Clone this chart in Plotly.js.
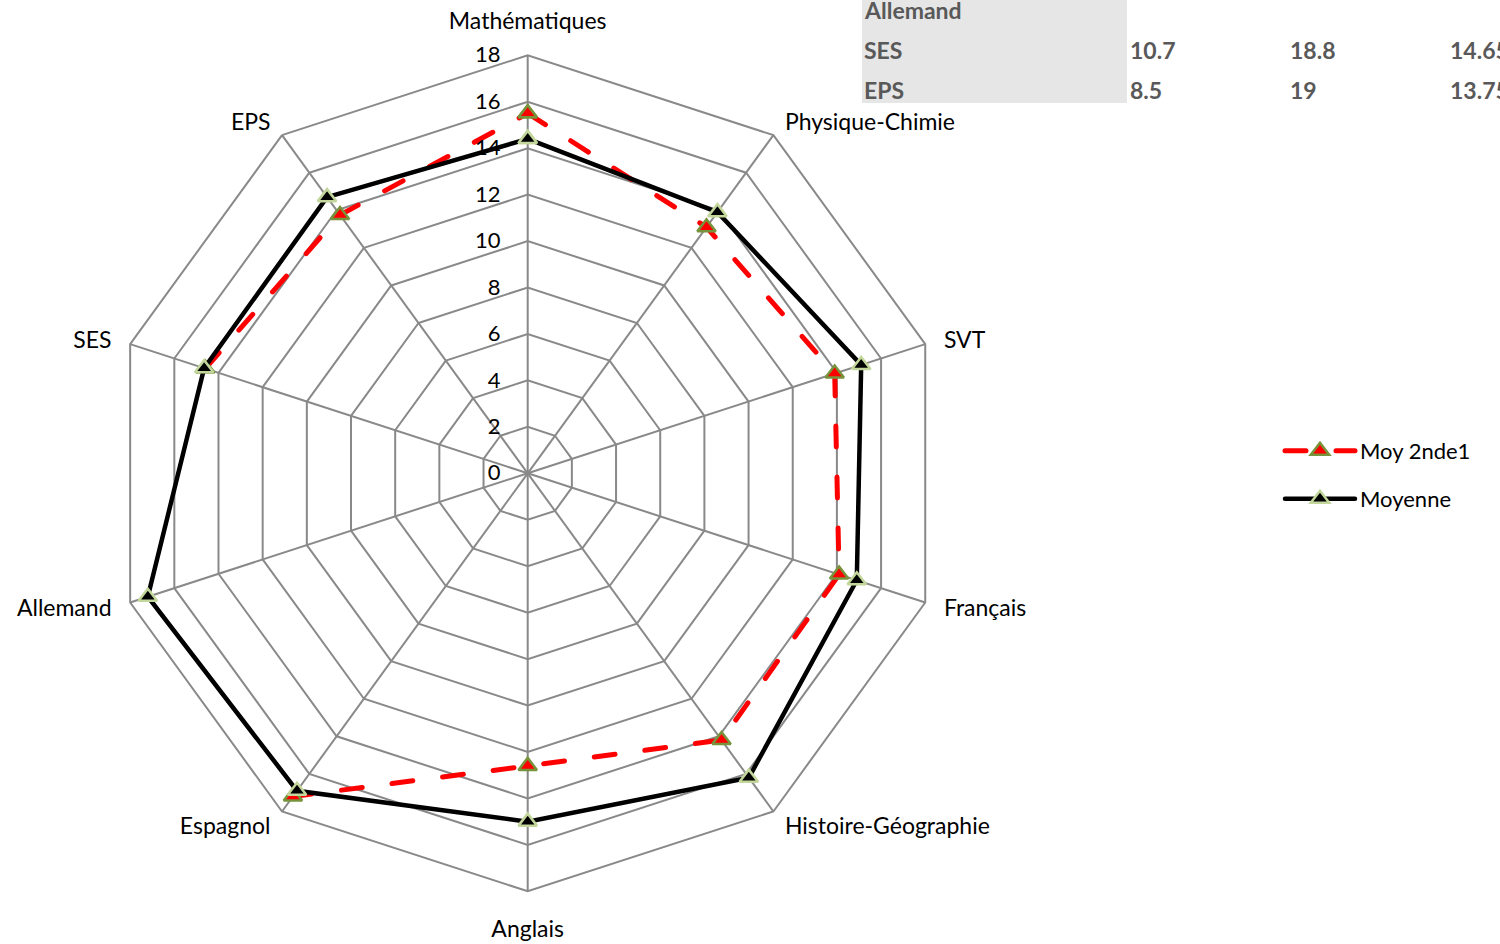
<!DOCTYPE html>
<html>
<head>
<meta charset="utf-8">
<script src="https://cdn.plot.ly/plotly-3.0.1.min.js"></script>
<style>
html,body{margin:0;padding:0;background:#fff;}
#chart{width:1500px;height:944px;}
path.js-line{stroke-linecap:round !important;}
</style>
</head>
<body>
<div id="chart"></div>
<script>
// ---- data ----
const categories = ["Mathématiques","Physique-Chimie","SVT","Français","Histoire-Géographie","Anglais","Espagnol","Allemand","SES","EPS"];
const moy2nde1 = [15.5, 13.1, 13.9, 14.1, 14.2, 12.6, 17.2, null, 14.6, 13.75];
const moyenne  = [14.4, 13.9, 15.1, 14.9, 16.2, 15.0, 16.9, 17.2, 14.65, 14.7];
const seriesNames = ["Moy 2nde1", "Moyenne"];
const radialTicks = [0,2,4,6,8,10,12,14,16,18];

const tableRows = ["Allemand","SES","EPS"];
const tableMin  = ["", "10.7", "8.5"];
const tableMax  = ["", "18.8", "19"];
const tableAvg  = ["", "14.65", "13.75"];

// ---- build ----
const closeLoop = arr => arr.concat([arr[0]]);
const theta = closeLoop(categories);
const FONT = "Lato, 'Open Sans', sans-serif";

const traces = [
  {
    type: "scatterpolar", mode: "lines+markers", name: seriesNames[0],
    r: closeLoop(moy2nde1), theta: theta, connectgaps: false,
    line: {color: "#FF0000", width: 5, dash: "21px,30px"},
    marker: {symbol: "triangle-up", size: 16, color: "#FF0000", line: {color: "#77933C", width: 2.5}},
    legend: "legend", hoverinfo: "skip"
  },
  {
    type: "scatterpolar", mode: "lines+markers", name: seriesNames[1],
    r: closeLoop(moyenne), theta: theta, connectgaps: false,
    line: {color: "#000000", width: 4.5},
    marker: {symbol: "triangle-up", size: 16, color: "#000000", line: {color: "#C3D69B", width: 2.5}},
    legend: "legend2", hoverinfo: "skip"
  }
];

const W = 1500, H = 944;
const cx = 527.7, cy = 473.3, R = 418;

const annotations = [];
const rowY = [10, 50, 90];
tableRows.forEach((row, i) => {
  const y = 1 - rowY[i] / H;
  const cells = [[862, row], [1128, tableMin[i]], [1288, tableMax[i]], [1448, tableAvg[i]]];
  cells.forEach(c => {
    if (c[1] === "") return;
    annotations.push({
      xref: "paper", yref: "paper", x: c[0] / W, y: y, xanchor: "left", yanchor: "middle",
      text: "<b>" + c[1] + "</b>", showarrow: false,
      font: {family: FONT, size: 23, color: "#595959"}
    });
  });
});

const layout = {
  width: W, height: H,
  margin: {l: 0, r: 0, t: 0, b: 0},
  paper_bgcolor: "#ffffff",
  font: {family: FONT, size: 23, color: "#000000"},
  shapes: [{
    type: "rect", xref: "paper", yref: "paper",
    x0: 862 / W, x1: 1127 / W, y0: 1 - 103 / H, y1: 1.05,
    fillcolor: "#E6E6E6", line: {width: 0}, layer: "below"
  }],
  annotations: annotations,
  polar: {
    domain: {x: [(cx - R) / W, (cx + R) / W], y: [(H - cy - R) / H, (H - cy + R) / H]},
    bgcolor: "#ffffff",
    gridshape: "linear",
    angularaxis: {
      type: "category", direction: "clockwise", rotation: 90,
      categoryorder: "array", categoryarray: categories,
      showline: true, linecolor: "#898989", linewidth: 2,
      showgrid: true, gridcolor: "#898989", gridwidth: 2,
      ticks: "outside", ticklen: 14, tickcolor: "rgba(0,0,0,0)",
      tickfont: {family: FONT, size: 23, color: "#000"}
    },
    radialaxis: {
      range: [0, 18], tickvals: radialTicks, angle: 90, side: "counterclockwise",
      tickangle: 90,
      showline: false, showgrid: true, gridcolor: "#898989", gridwidth: 2,
      ticks: "outside", ticklen: 19, tickcolor: "rgba(0,0,0,0)",
      tickfont: {family: FONT, size: 22, color: "#000"}
    }
  },
  showlegend: true,
  legend: {
    x: 1280 / W, y: 1 - 451 / H, xanchor: "left", yanchor: "middle",
    itemwidth: 70, font: {family: FONT, size: 22, color: "#000"}, bgcolor: "rgba(0,0,0,0)"
  },
  legend2: {
    x: 1280 / W, y: 1 - 499 / H, xanchor: "left", yanchor: "middle",
    itemwidth: 70, font: {family: FONT, size: 22, color: "#000"}, bgcolor: "rgba(0,0,0,0)"
  }
};

// Excel-style vertical nudge of category labels, depending on their direction
function labelNudge(idx) {
  const a = (90 - idx * 360 / categories.length) * Math.PI / 180;
  const s = Math.sin(a);
  if (s > 0.9) return -2;
  if (s > 0.5) return 10;
  if (s > 0) return 4;
  if (s > -0.5) return -7;
  if (s > -0.9) return -17;
  return 3;
}

Plotly.newPlot("chart", traces, layout, {displayModeBar: false, staticPlot: true}).then(gd => {
  const seen = new Set();
  gd.querySelectorAll(".angularaxistick text, .angular-axis text").forEach(t => {
    if (seen.has(t)) return;
    seen.add(t);
    const idx = categories.indexOf(t.textContent);
    if (idx < 0) return;
    const dy = labelNudge(idx);
    t.setAttribute("transform", (t.getAttribute("transform") || "") + " translate(0," + dy + ")");
  });
});
</script>
</body>
</html>
